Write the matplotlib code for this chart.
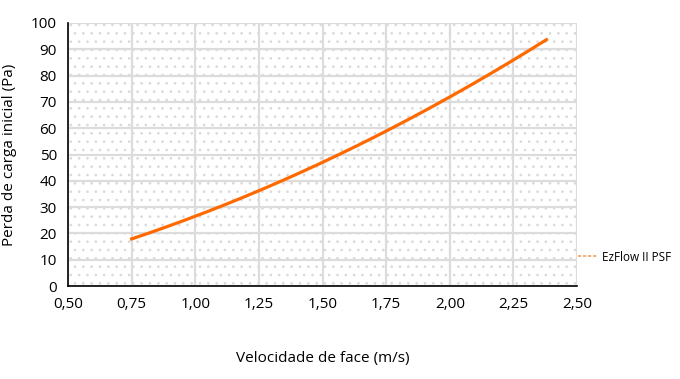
import matplotlib.pyplot as plt
from matplotlib.patches import Rectangle
from matplotlib.ticker import FuncFormatter
import numpy as np

# Values
velocidade = [0.75, 1.00, 1.25, 1.50, 1.75, 2.00, 2.25, 2.38]
perda = [18.0, 26.5, 36.0, 47.0, 59.0, 72.0, 86.0, 93.5]
serie = "EzFlow II PSF"

x_ticks = [0.50, 0.75, 1.00, 1.25, 1.50, 1.75, 2.00, 2.25, 2.50]
y_ticks = list(range(0, 101, 10))

plt.rcParams['font.family'] = ['Open Sans', 'DejaVu Sans']
plt.rcParams['hatch.color'] = '#dadada'
plt.rcParams['hatch.linewidth'] = 0.7

fig = plt.figure(figsize=(6.8, 3.79), dpi=100)
ax = fig.add_axes([68 / 680, 1 - 286 / 379, (577 - 68) / 680, (286 - 23) / 379])

# dotted background of the plot area
ax.add_patch(Rectangle((0, 0), 1, 1, transform=ax.transAxes, facecolor='white',
                       edgecolor='#dadada', hatch='..', linewidth=0, zorder=0))

# smooth curve through the read points
xs = np.linspace(velocidade[0], velocidade[-1], 200)
coef = np.polyfit(velocidade, perda, 2)
ax.plot(xs, np.polyval(coef, xs), color='#ff6a00', linewidth=2.3, zorder=3)

# legend entry (dashed light orange)
leg_line, = ax.plot([], [], color='#f7a35c', linewidth=1.2, dashes=(2, 1), label=serie)
ax.legend(handles=[leg_line], loc='center left', bbox_to_anchor=(1.0, 0.11),
          frameon=False, fontsize=8.5, handlelength=1.6, handletextpad=0.4,
          borderpad=0, borderaxespad=0.1)

ax.set_xlim(0.5, 2.5)
ax.set_ylim(0, 100)
ax.set_xticks(x_ticks)
ax.set_yticks(y_ticks)
ax.xaxis.set_major_formatter(FuncFormatter(lambda v, p: f"{v:.2f}".replace('.', ',')))
ax.grid(True, color='#dcdcdc', linewidth=1.6, zorder=1)
ax.set_axisbelow(True)

for side in ['top', 'right']:
    ax.spines[side].set_visible(False)
ax.spines['left'].set_color('black')
ax.spines['bottom'].set_color('black')
ax.spines['left'].set_linewidth(1.2)
ax.spines['bottom'].set_linewidth(1.2)
ax.tick_params(length=0, labelsize=11, pad=8)

ax.set_xlabel('Velocidade de face (m/s)', fontsize=11, labelpad=28)
ax.set_ylabel('Perda de carga inicial (Pa)', fontsize=11, labelpad=10)

fig.savefig('out.png', dpi=100)
